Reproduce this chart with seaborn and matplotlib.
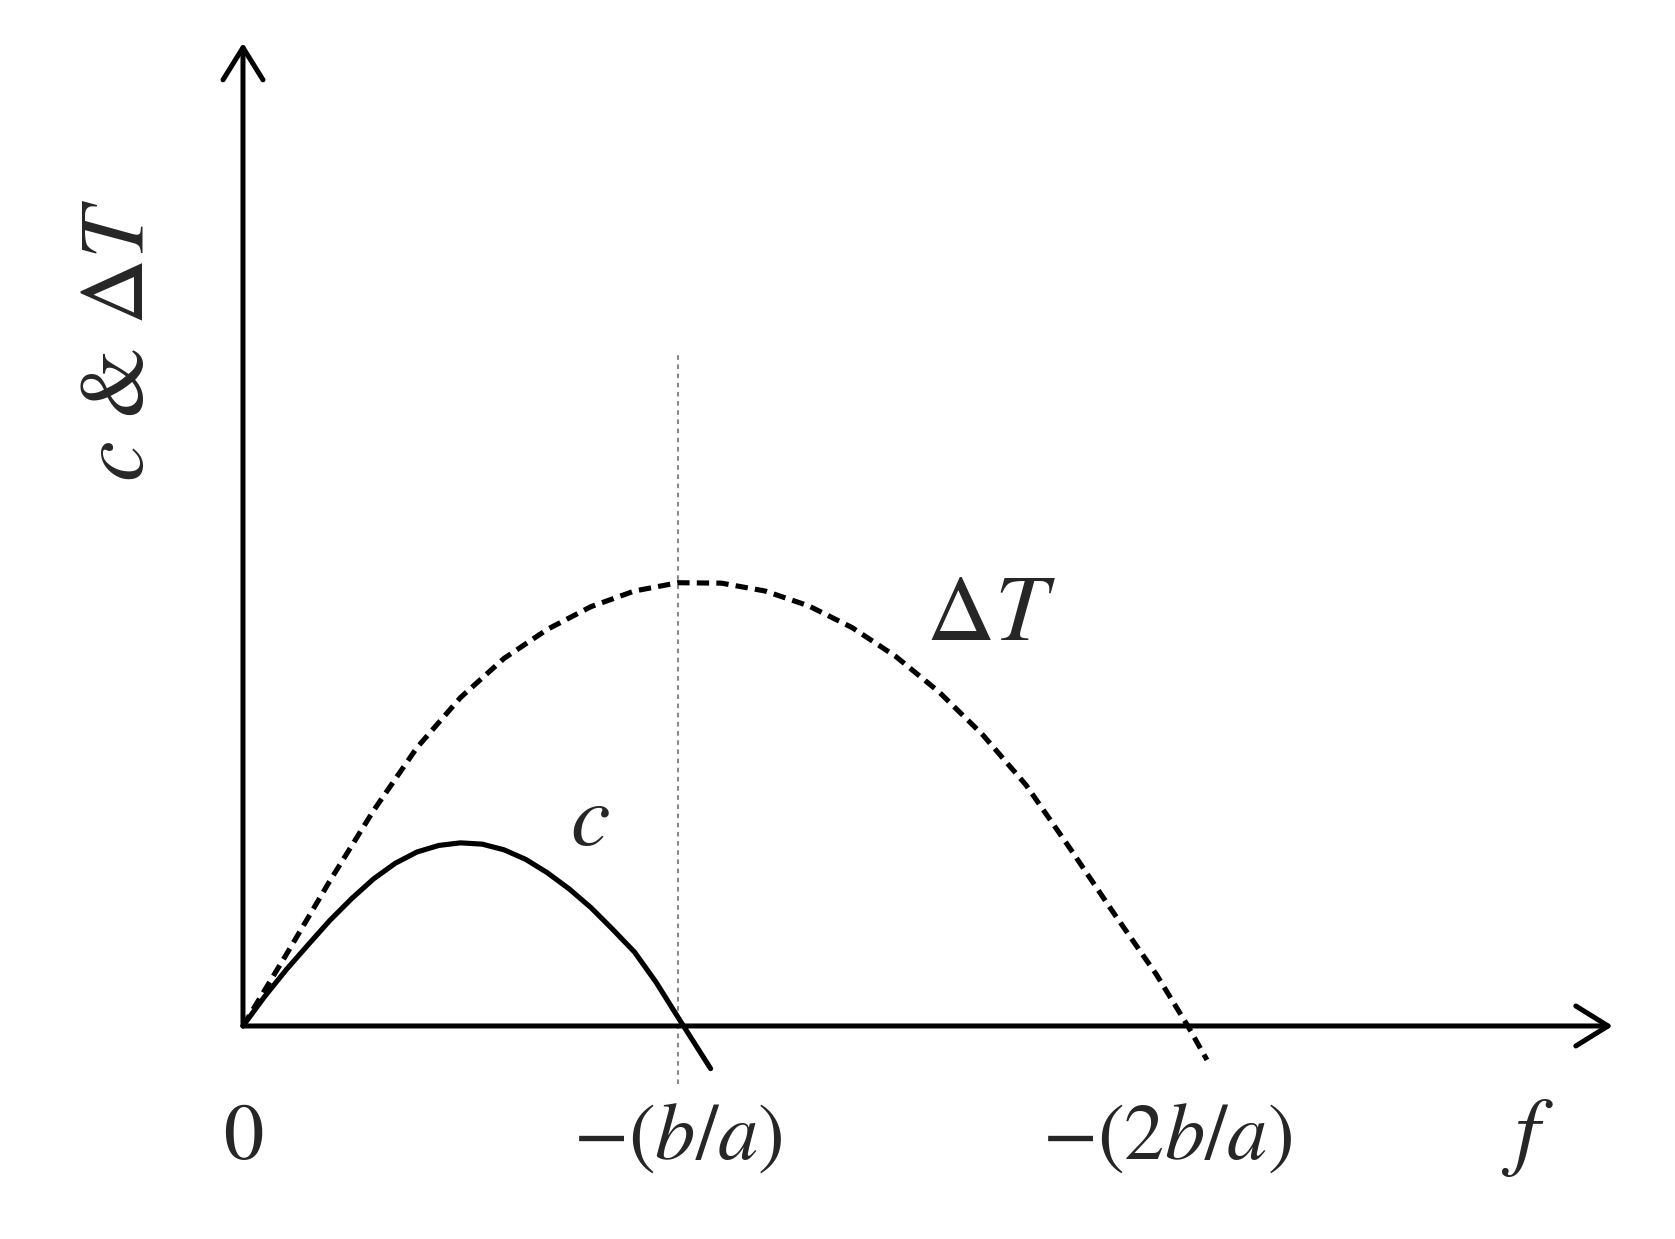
import matplotlib
matplotlib.use("Agg")
import matplotlib.pyplot as plt
import pandas as pd
import seaborn as sns

# ---- data (x in units of b/a) ----
f_dT = [0.0, 0.1, 0.2, 0.3, 0.4, 0.5, 0.6, 0.7, 0.8, 0.9, 1.0, 1.1, 1.2,
        1.3, 1.4, 1.5, 1.6, 1.7, 1.8, 1.9, 2.0, 2.1, 2.172, 2.216]
dT_vals = [0.0, 0.165, 0.334, 0.495, 0.640, 0.755, 0.845, 0.912, 0.964,
           1.000, 1.019, 1.018, 1.000, 0.966, 0.916, 0.850, 0.768, 0.670,
           0.554, 0.410, 0.262, 0.118, 0.0, -0.078]
f_c = [0.0, 0.05, 0.10, 0.15, 0.20, 0.25, 0.30, 0.35, 0.40, 0.45, 0.50,
       0.55, 0.60, 0.65, 0.70, 0.75, 0.80, 0.85, 0.90, 0.95, 1.00, 1.075]
c_vals = [0.0, 0.068, 0.130, 0.187, 0.243, 0.293, 0.338, 0.374, 0.400,
          0.415, 0.421, 0.418, 0.405, 0.383, 0.352, 0.315, 0.272, 0.222,
          0.170, 0.100, 0.020, -0.098]
xtick_pos = [0.0, 1.0, 2.172]
xtick_labels = [r"$0$", r"$-(b/a)$", r"$-(2b/a)$"]
curve_labels = [r"$\Delta T$", r"$c$"]
x_label = r"$f$"
y_label = r"$c$ & $\Delta T$"

# ---- style ----
sns.set_theme(style="white")
plt.rcParams["font.family"] = ["STIXGeneral", "DejaVu Serif"]
plt.rcParams["mathtext.fontset"] = "stix"

fig = plt.figure(figsize=(16.75, 12.39), dpi=100)
ax = fig.add_axes([0, 0, 1, 1])

# guide line at -(b/a)
ax.plot([xtick_pos[1], xtick_pos[1]], [-0.133, 1.549], color="#8a8a8a",
        lw=1.5, dashes=(2.2, 2.2), zorder=1)

df_dT = pd.DataFrame({"f": f_dT, "v": dT_vals})
df_c = pd.DataFrame({"f": f_c, "v": c_vals})
sns.lineplot(data=df_dT, x="f", y="v", ax=ax, color="black", lw=3.7,
             sort=False, estimator=None, zorder=3)
ax.get_lines()[-1].set_dashes((2.4, 1.4))
sns.lineplot(data=df_c, x="f", y="v", ax=ax, color="black", lw=3.7,
             sort=False, estimator=None, zorder=3)
for ln in ax.get_lines():
    ln.set_solid_joinstyle("round")
    ln.set_dash_joinstyle("round")

ax.set_xlim(-0.5586, 3.292)
ax.set_ylim(-0.4897, 2.3586)
ax.axis("off")

# axes with open arrow heads
arrow_kw = dict(arrowstyle="->,head_length=0.58,head_width=0.36", lw=3.6,
                color="black", mutation_scale=40, shrinkA=0, shrinkB=0)
ax.annotate("", xy=(3.149, 0), xytext=(0, 0), arrowprops=arrow_kw)
ax.annotate("", xy=(0, 2.26), xytext=(0, 0), arrowprops=arrow_kw)

# tick labels
nudge = [0.0, 0.0, -0.048]
for xp, lab, dn in zip(xtick_pos, xtick_labels, nudge):
    ax.text(xp + dn, -0.306, lab, ha="center", va="baseline", fontsize=58)

ax.text(2.952, -0.306, x_label, ha="center", va="baseline", fontsize=64)
ax.text(1.72, 0.887, curve_labels[0], ha="center", va="baseline", fontsize=68)
ax.text(0.798, 0.416, curve_labels[1], ha="center", va="baseline", fontsize=64)
ax.text(-0.279, 1.577, y_label, ha="center", va="center", rotation=90,
        fontsize=66)

fig.savefig("out.png", dpi=100)
